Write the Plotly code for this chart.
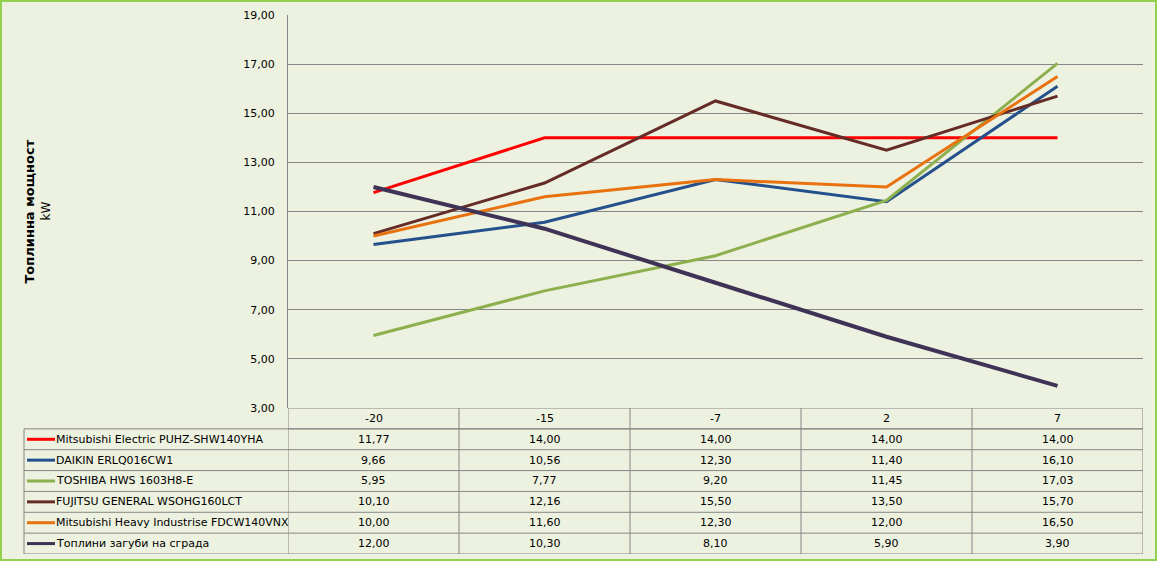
import plotly.graph_objects as go

temperatures = ["-20", "-15", "-7", "2", "7"]

series_names = [
    "Mitsubishi Electric PUHZ-SHW140YHA",
    "DAIKIN ERLQ016CW1",
    "TOSHIBA HWS 1603H8-E",
    "FUJITSU GENERAL WSOHG160LCT",
    "Mitsubishi Heavy Industrise FDCW140VNX",
    "Топлини загуби на сграда",
]
mitsubishi = [11.77, 14.00, 14.00, 14.00, 14.00]
daikin = [9.66, 10.56, 12.30, 11.40, 16.10]
toshiba = [5.95, 7.77, 9.20, 11.45, 17.03]
fujitsu = [10.10, 12.16, 15.50, 13.50, 15.70]
mhi = [10.00, 11.60, 12.30, 12.00, 16.50]
losses = [12.00, 10.30, 8.10, 5.90, 3.90]

series_values = [mitsubishi, daikin, toshiba, fujitsu, mhi, losses]
series_colors = ["#FF0000", "#24518C", "#8DB04F", "#652B27", "#E8720F", "#3E3256"]
series_widths = [3, 3, 3, 3, 3, 4]

y_ticks = [3, 5, 7, 9, 11, 13, 15, 17, 19]

BG = "#EDF1DF"
GRID = "#868686"
FONT = "DejaVu Sans"

W, H = 1157, 561
L, R, T, B = 288, 14, 15, 7
plot_top, plot_bottom = 15, 408
PW = W - L - R
# split the plot height between the chart and the data table
table_frac = (H - B - plot_bottom) / (H - T - B)
n_rows = len(series_names) + 1


def px_x(p):
    # pixel column -> paper x
    return (p - L) / PW


fig = go.Figure()

for name, vals, col, w in zip(series_names, series_values, series_colors, series_widths):
    fig.add_trace(go.Scatter(
        x=list(range(len(temperatures))), y=vals, name=name, mode="lines",
        line=dict(color=col, width=w), showlegend=False,
    ))

# invisible trace to anchor the table axis
fig.add_trace(go.Scatter(x=[0], y=[0], xaxis="x", yaxis="y2", mode="markers",
                         marker=dict(opacity=0), showlegend=False, hoverinfo="skip"))

ncol = len(temperatures)
left_paper = px_x(24)

shapes = []
annotations = []
line_style = dict(color=GRID, width=1)

# table: header row (row 0) with temperatures, then one row per series
for r in range(n_rows + 1):
    if r <= 1:
        shapes.append(dict(type="line", xref="x", yref="y2", x0=-0.5, x1=ncol - 0.5,
                           y0=r, y1=r, line=line_style))
    if r >= 1:
        shapes.append(dict(type="line", xref="paper", yref="y2", x0=left_paper, x1=1,
                           y0=r, y1=r, line=line_style))
for c in range(ncol + 1):
    shapes.append(dict(type="line", xref="x", yref="y2", x0=c - 0.5, x1=c - 0.5,
                       y0=0, y1=n_rows, line=line_style))
shapes.append(dict(type="line", xref="paper", yref="y2", x0=left_paper, x1=left_paper,
                   y0=1, y1=n_rows, line=line_style))

cell_font = dict(family=FONT, size=11, color="#000000")

for c, t in enumerate(temperatures):
    annotations.append(dict(x=c, y=0.5, xref="x", yref="y2", text=t, showarrow=False,
                            font=cell_font))

for i, (name, vals, col) in enumerate(zip(series_names, series_values, series_colors)):
    row = i + 1.5
    for c, v in enumerate(vals):
        annotations.append(dict(x=c, y=row, xref="x", yref="y2",
                                text=f"{v:.2f}".replace(".", ","), showarrow=False,
                                font=cell_font))
    shapes.append(dict(type="line", xref="paper", yref="y2", x0=px_x(27), x1=px_x(55),
                       y0=row, y1=row, line=dict(color=col, width=3)))
    annotations.append(dict(x=px_x(54), y=row, xref="paper", yref="y2", text=name,
                            showarrow=False, xanchor="left", font=cell_font))

# axis title
mid = 0.5 * (1 + table_frac)
annotations.append(dict(x=px_x(29), y=mid, xref="paper", yref="paper",
                        xanchor="center", yanchor="middle",
                        text="<b>Топлинна мощност</b>", textangle=-90, showarrow=False,
                        font=dict(family=FONT, size=13, color="#000000")))
annotations.append(dict(x=px_x(46), y=mid, xref="paper", yref="paper",
                        xanchor="center", yanchor="middle", text="kW",
                        textangle=-90, showarrow=False,
                        font=dict(family=FONT, size=12, color="#000000")))

# outer border
shapes.append(dict(type="rect", xref="paper", yref="paper",
                   x0=px_x(1), x1=px_x(W - 1),
                   y0=-(B - 1) / (H - T - B), y1=1 + (T - 1) / (H - T - B),
                   line=dict(color="#92D050", width=2)))

fig.update_layout(
    template="none",
    width=W, height=H,
    margin=dict(l=L, r=R, t=T, b=B, autoexpand=False),
    paper_bgcolor=BG, plot_bgcolor=BG,
    separators=", ",
    font=dict(family=FONT, size=11, color="#000000"),
    xaxis=dict(range=[-0.5, ncol - 0.5], showgrid=False, showticklabels=False,
               zeroline=False, showline=False, ticks="", fixedrange=True),
    yaxis=dict(domain=[table_frac, 1], range=[3, 19], tickvals=y_ticks,
               tickformat=".2f", showgrid=True, gridcolor=GRID, gridwidth=1,
               zeroline=False, showline=True, linecolor=GRID, linewidth=1,
               ticks="", ticklabelstandoff=10,
               tickfont=dict(family=FONT, size=11, color="#000000")),
    yaxis2=dict(domain=[0, table_frac], range=[n_rows, 0], showgrid=False,
                showticklabels=False, zeroline=False, showline=False, ticks=""),
    shapes=shapes,
    annotations=annotations,
)

fig.write_html("out.html", config={"displayModeBar": False},
               post_script="document.body.style.margin='0';")
